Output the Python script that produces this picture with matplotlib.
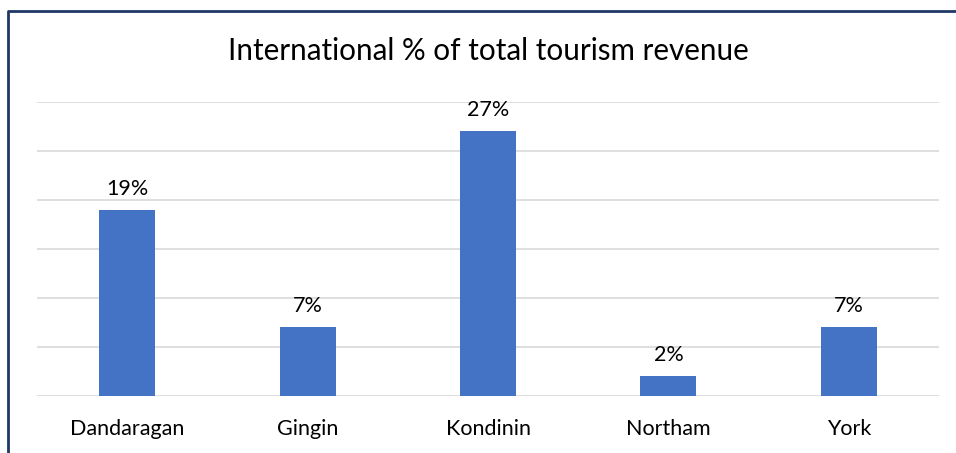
import matplotlib.pyplot as plt
from matplotlib.lines import Line2D

# Chart data
regions = ['Dandaragan', 'Gingin', 'Kondinin', 'Northam', 'York']
intl_share = [19, 7, 27, 2, 7]

plt.rcParams['font.family'] = ['Lato', 'DejaVu Sans']

fig = plt.figure(figsize=(9.56, 4.53), dpi=100)
ax = fig.add_axes([37 / 956, 57 / 453, 902 / 956, 294 / 453])

x = range(len(regions))
bars = ax.bar(x, intl_share, width=0.31, color='#4472C4', zorder=3)

for bar, v in zip(bars, intl_share):
    ax.annotate(f'{v}%', (bar.get_x() + bar.get_width() / 2, v),
                xytext=(0, 8), textcoords='offset points',
                ha='center', va='bottom', fontsize=15.5, color='#000000')

ax.set_xlim(-0.5, len(regions) - 0.5)
ax.set_ylim(0, 30)
ax.set_yticks(range(0, 31, 5))
ax.yaxis.grid(True, color='#D9D9D9', linewidth=1.2, zorder=0)
ax.tick_params(axis='y', left=False, labelleft=False)
ax.tick_params(axis='x', bottom=False, pad=13, labelsize=15.5)
ax.set_xticks(list(x))
ax.set_xticklabels(regions)
for s in ax.spines.values():
    s.set_visible(False)

fig.text(488 / 956, 1 - 51 / 453, 'International % of total tourism revenue',
         ha='center', va='center', fontsize=21.3)

# chart border (left and top edges only are in view)
bx, by = 8 / 956, 1 - 11 / 453
fig.lines.append(Line2D([bx, bx, 1.0], [0.0, by, by], transform=fig.transFigure,
                        color='#1F3868', linewidth=2))

fig.savefig('out.png', dpi=100)
